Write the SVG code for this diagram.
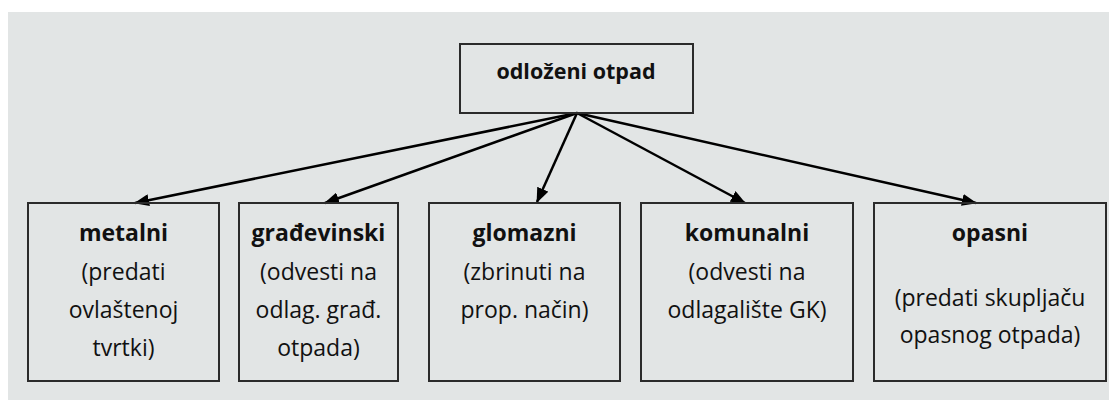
<svg xmlns="http://www.w3.org/2000/svg" width="1109" height="400" viewBox="0 0 1109 400">
<defs>
<marker id="ah" markerWidth="15" markerHeight="12" refX="14" refY="6" orient="auto" markerUnits="userSpaceOnUse">
<path d="M0,0 L15,6 L0,12 z" fill="#000"/>
</marker>
<style>
.box{fill:none;stroke:#2b2b2b;stroke-width:2}
.t{font-family:"Open Sans","Noto Sans",sans-serif;font-size:23px;fill:#111;text-anchor:middle}
.b{font-weight:bold}
.h{font-size:21.5px}
.c{stroke:#000;stroke-width:2.5;fill:none;marker-end:url(#ah)}
</style>
</defs>
<rect x="0" y="0" width="1109" height="400" fill="#ffffff"/>
<rect x="8" y="12" width="1101" height="388" fill="#e2e5e5"/>
<g id="connectors">
<line class="c" x1="577" y1="113" x2="135" y2="203"/>
<line class="c" x1="577" y1="113" x2="325" y2="203"/>
<line class="c" x1="577" y1="113" x2="537" y2="202"/>
<line class="c" x1="577" y1="113" x2="745" y2="203"/>
<line class="c" x1="577" y1="113" x2="976" y2="203"/>
</g>
<g id="root">
<rect class="box" x="460" y="44" width="233" height="69" stroke-width="2.5"/>
<text class="t b h" x="576" y="79">odloženi otpad</text>
</g>
<g id="metalni">
<rect class="box" x="28" y="203" width="191" height="178"/>
<text class="t b" x="123.5" y="241">metalni</text>
<text class="t" x="123.5" y="280">(predati</text>
<text class="t" x="123.5" y="318">ovlaštenoj</text>
<text class="t" x="123.5" y="356">tvrtki)</text>
</g>
<g id="gradjevinski">
<rect class="box" x="239" y="203" width="159" height="178"/>
<text class="t b" x="318.5" y="241">građevinski</text>
<text class="t" x="318.5" y="280">(odvesti na</text>
<text class="t" x="318.5" y="318">odlag. građ.</text>
<text class="t" x="318.5" y="356">otpada)</text>
</g>
<g id="glomazni">
<rect class="box" x="429" y="203" width="191" height="178"/>
<text class="t b" x="524.5" y="241">glomazni</text>
<text class="t" x="524.5" y="280">(zbrinuti na</text>
<text class="t" x="524.5" y="318">prop. način)</text>
</g>
<g id="komunalni">
<rect class="box" x="641" y="203" width="212" height="178"/>
<text class="t b" x="747" y="241">komunalni</text>
<text class="t" x="747" y="280">(odvesti na</text>
<text class="t" x="747" y="318">odlagalište GK)</text>
</g>
<g id="opasni">
<rect class="box" x="874" y="203" width="232" height="178"/>
<text class="t b" x="990" y="241">opasni</text>
<text class="t" x="990" y="306">(predati skupljaču</text>
<text class="t" x="990" y="343">opasnog otpada)</text>
</g>
</svg>
